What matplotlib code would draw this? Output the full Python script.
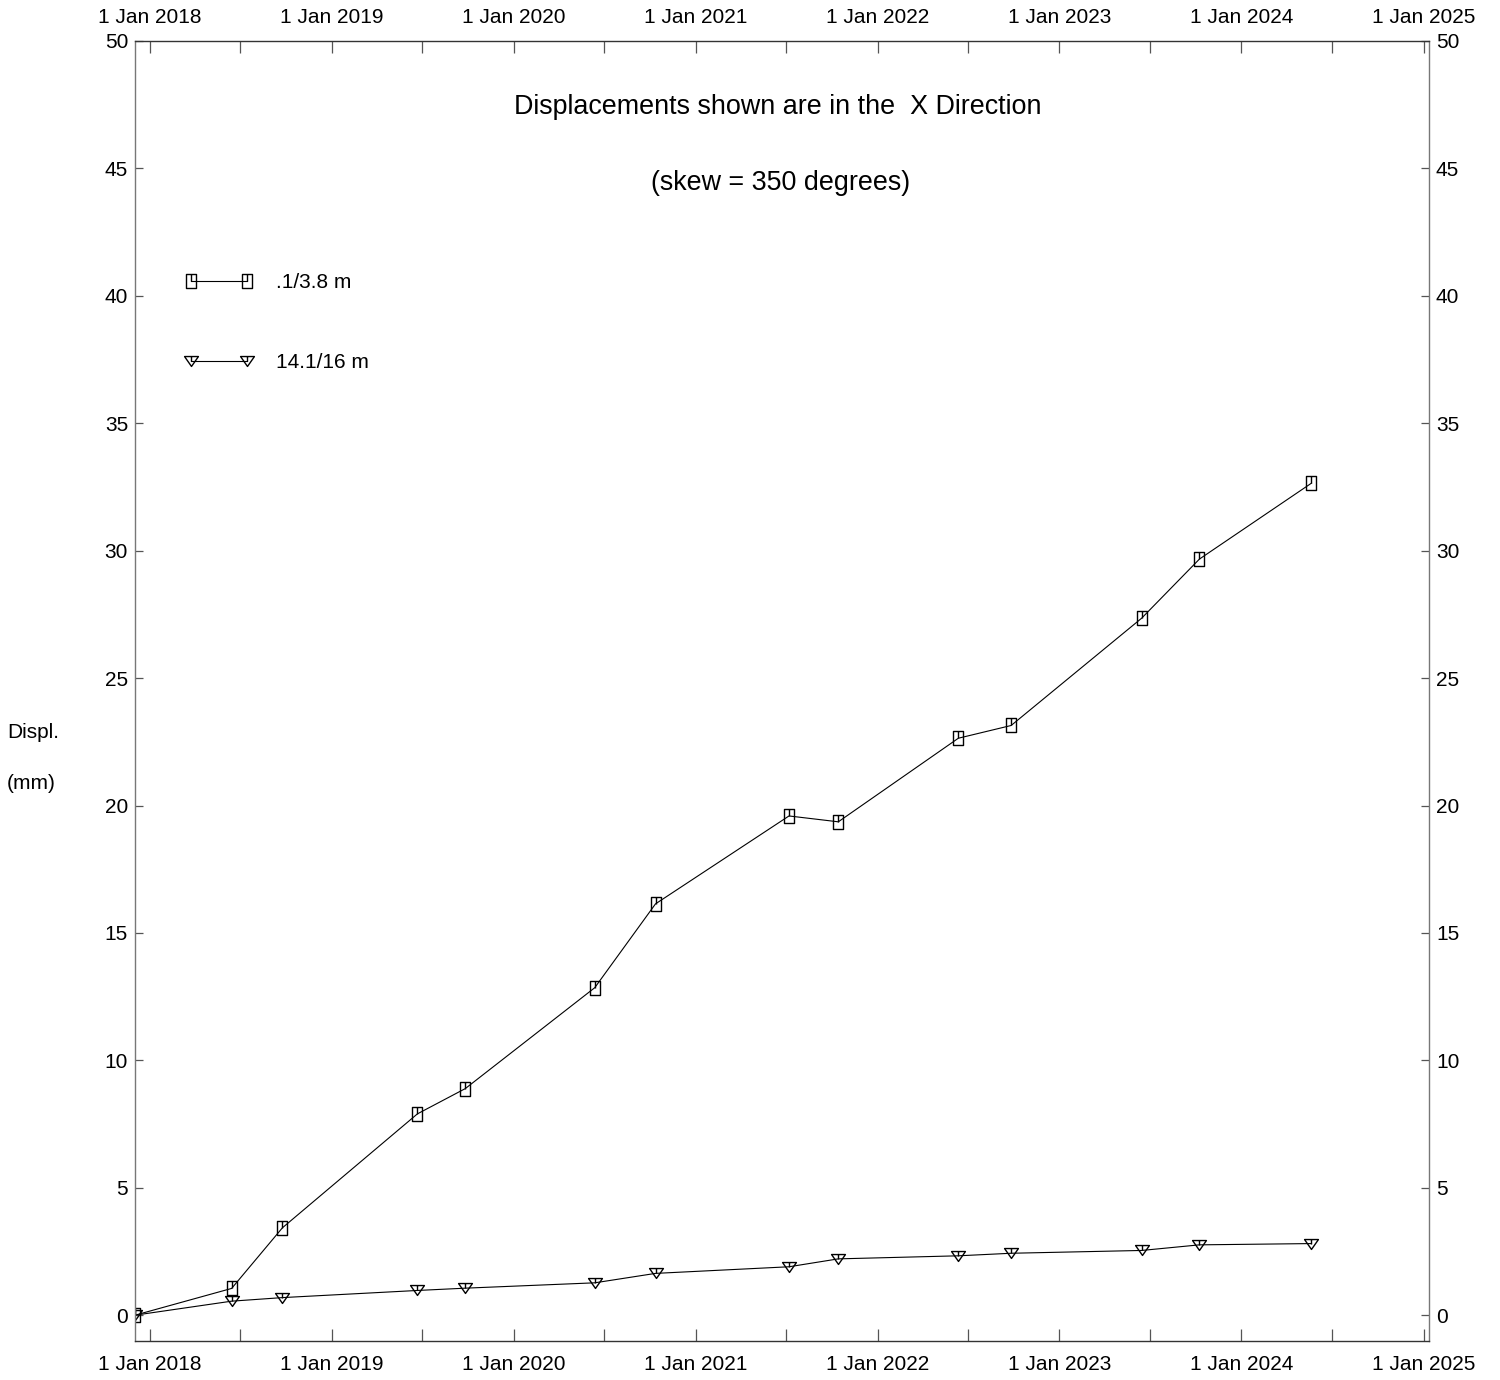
import numpy as np
import pandas as pd
import matplotlib
matplotlib.use("Agg")
import matplotlib.pyplot as plt
import matplotlib.dates as mdates
from matplotlib.path import Path
from matplotlib.ticker import FuncFormatter

plt.rcParams['font.family'] = ['Liberation Sans', 'DejaVu Sans']

# survey dates
dates = ["2017-12-02", "2018-06-14", "2018-09-24", "2019-06-22", "2019-09-26",
         "2020-06-12", "2020-10-12", "2021-07-07", "2021-10-14", "2022-06-12",
         "2022-09-26", "2023-06-15", "2023-10-09", "2024-05-21"]

# displacement in mm for each depth interval
disp_shallow = [0.0, 1.05, 3.43, 7.90, 8.89, 12.85, 16.14, 19.59, 19.36,
                22.64, 23.14, 27.35, 29.67, 32.65]
disp_deep = [0.0, 0.55, 0.69, 0.97, 1.06, 1.27, 1.64, 1.90, 2.21,
             2.33, 2.43, 2.54, 2.76, 2.81]
labels = [".1/3.8 m", "14.1/16 m"]

y_ticks = list(range(0, 55, 5))
x_start, x_end = "2017-12-02", "2025-01-12"

t = pd.to_datetime(dates)

# hollow markers with a little stem from the top edge
box = Path([(-0.5, -0.7), (0.5, -0.7), (0.5, 0.7), (-0.5, 0.7), (-0.5, -0.7),
            (0.0, 0.7), (0.0, 0.0)],
           [Path.MOVETO, Path.LINETO, Path.LINETO, Path.LINETO, Path.CLOSEPOLY,
            Path.MOVETO, Path.LINETO])
tri = Path([(-0.7, 0.5), (0.7, 0.5), (0.0, -0.5), (-0.7, 0.5),
            (0.0, 0.5), (0.0, 0.0)],
           [Path.MOVETO, Path.LINETO, Path.LINETO, Path.CLOSEPOLY,
            Path.MOVETO, Path.LINETO])

fig = plt.figure(figsize=(15, 13.8), dpi=100)
ax = fig.add_axes([0.09, 0.0285, 0.8627, 0.9418])

ax.plot(t, disp_shallow, color='black', lw=0.8, marker=box, ms=10,
        mfc='none', mec='black', mew=1.0, label=labels[0])
ax.plot(t, disp_deep, color='black', lw=0.8, marker=tri, ms=10,
        mfc='none', mec='black', mew=1.0, label=labels[1])

ax.set_xlim(pd.Timestamp(x_start), pd.Timestamp(x_end))
ax.set_ylim(-1, 50)
ax.set_yticks(y_ticks)

ax.xaxis.set_major_locator(mdates.YearLocator())
ax.xaxis.set_minor_locator(mdates.MonthLocator(bymonth=7))
ax.xaxis.set_major_formatter(FuncFormatter(
    lambda v, pos: f"{mdates.num2date(v).day} {mdates.num2date(v):%b %Y}"))

ax.tick_params(axis='x', which='both', direction='in', length=8.8, width=0.9,
               color='#555555', top=True, labeltop=True, labelsize=15, pad=10)
ax.tick_params(axis='y', direction='in', length=6, width=0.9, color='#555555',
               right=True, labelright=True, labelsize=15, pad=5)

for side in ['left', 'right']:
    ax.spines[side].set_color('#777777')
for side in ['top', 'bottom']:
    ax.spines[side].set_color('#333333')
for s in ax.spines.values():
    s.set_linewidth(1.0)

ax.legend(loc='upper left', bbox_to_anchor=(0.0386, 0.8214), frameon=False,
          numpoints=2, fontsize=15, handlelength=3.28, handletextpad=1.1,
          labelspacing=2.94, borderpad=0, borderaxespad=0)

fig.text(778 / 1500, 1 - 107 / 1380, "Displacements shown are in the  X Direction",
         ha='center', va='center', fontsize=19.4)
fig.text(781 / 1500, 1 - 183 / 1380, "(skew = 350 degrees)",
         ha='center', va='center', fontsize=19.4)

fig.text(7 / 1500, 1 - 733 / 1380, "Displ.", ha='left', va='center', fontsize=15)
fig.text(7 / 1500, 1 - 783 / 1380, "(mm)", ha='left', va='center', fontsize=15)

fig.savefig("out.png", dpi=100, facecolor='white')
